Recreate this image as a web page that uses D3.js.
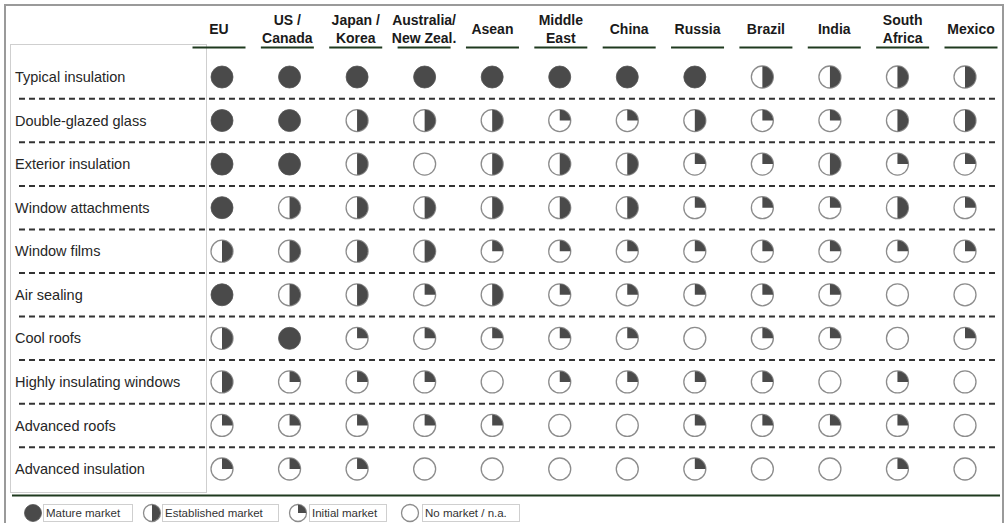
<!DOCTYPE html>
<html>
<head>
<meta charset="utf-8">
<script src="https://cdn.jsdelivr.net/npm/d3@7/dist/d3.min.js"></script>
<style>
  html, body { margin: 0; padding: 0; background: #fff; }
  svg { display: block; font-family: "Liberation Sans", Arial, sans-serif; }
</style>
</head>
<body>
<svg id="chart" width="1008" height="523"></svg>
<script>
// Regions (column headers); "\n" marks a line break in the header
const regions = [
  "EU", "US /\nCanada", "Japan /\nKorea", "Australia/\nNew Zeal.", "Asean",
  "Middle\nEast", "China", "Russia", "Brazil", "India", "South\nAfrica", "Mexico"
];

// Building-envelope technologies (rows)
const technologies = [
  "Typical insulation", "Double-glazed glass", "Exterior insulation",
  "Window attachments", "Window films", "Air sealing", "Cool roofs",
  "Highly  insulating windows", "Advanced roofs", "Advanced insulation"
];

// Market maturity: 0 = no market / n.a., 1 = initial, 2 = established, 3 = mature
const typicalInsulation       = [3, 3, 3, 3, 3, 3, 3, 3, 2, 2, 2, 2];
const doubleGlazedGlass       = [3, 3, 2, 2, 2, 1, 1, 2, 1, 1, 2, 2];
const exteriorInsulation      = [3, 3, 2, 0, 2, 2, 2, 1, 1, 2, 1, 1];
const windowAttachments       = [3, 2, 2, 2, 2, 2, 2, 1, 1, 1, 2, 1];
const windowFilms             = [2, 2, 2, 2, 1, 1, 1, 1, 1, 1, 1, 1];
const airSealing              = [3, 2, 2, 1, 2, 1, 1, 1, 1, 1, 0, 0];
const coolRoofs               = [2, 3, 1, 1, 1, 1, 1, 0, 1, 1, 0, 1];
const highlyInsulatingWindows = [2, 1, 1, 1, 0, 1, 1, 1, 1, 0, 1, 0];
const advancedRoofs           = [1, 1, 1, 1, 1, 0, 0, 1, 1, 1, 1, 0];
const advancedInsulation      = [1, 1, 1, 0, 0, 0, 0, 1, 0, 0, 1, 0];

const maturityRows = [
  typicalInsulation, doubleGlazedGlass, exteriorInsulation, windowAttachments,
  windowFilms, airSealing, coolRoofs, highlyInsulatingWindows, advancedRoofs,
  advancedInsulation
];

// Legend entries, in display order, with their maturity level
const legendLabels = ["Mature market", "Established  market", "Initial market", "No market / n.a."];
const legendLevels = [3, 2, 1, 0];

// ---------------------------------------------------------------------------
const svg = d3.select("#chart");

const x = d3.scalePoint().domain(regions).range([222, 965]);
const xHead = d3.scalePoint().domain(regions).range([219, 971]);
const y = d3.scalePoint().domain(technologies).range([77, 469]);
const fillAngle = d3.scaleOrdinal().domain([0, 1, 2, 3]).range([0, Math.PI / 2, Math.PI, 2 * Math.PI]);

const DARK = "#4a4a4a";
const RING = "#8c8c8c";

// Outer frame
svg.append("path")
  .attr("d", "M5,524 V5 H1003 V524")
  .attr("fill", "none").attr("stroke", "#9a9a9a").attr("stroke-width", 2);

// Label panel
svg.append("rect")
  .attr("x", 10.5).attr("y", 44.5).attr("width", 196).attr("height", 448)
  .attr("fill", "#fff").attr("stroke", "#cfcfcf").attr("stroke-width", 1);

// Column headers
const head = svg.append("g").attr("class", "headers");
regions.forEach(r => {
  const lines = r.split("\n");
  const t = head.append("text")
    .attr("x", xHead(r)).attr("text-anchor", "middle")
    .attr("font-size", 14).attr("font-weight", "bold").attr("fill", "#1a1a1a");
  lines.forEach((ln, i) => {
    t.append("tspan").attr("x", xHead(r))
      .attr("y", lines.length === 1 ? 34 : 25 + i * 17.5)
      .text(ln);
  });
  head.append("line")
    .attr("x1", xHead(r) - 26.5).attr("x2", xHead(r) + 26.5)
    .attr("y1", 47.5).attr("y2", 47.5)
    .attr("stroke", "#1f3a1f").attr("stroke-width", 2);
});

// Row separators (dashed), halfway between rows
const step = y.step();
svg.append("g").selectAll("line")
  .data(technologies.slice(1))
  .join("line")
  .attr("x1", 19).attr("x2", 995)
  .attr("y1", d => y(d) - step / 2).attr("y2", d => y(d) - step / 2)
  .attr("stroke", "#333").attr("stroke-width", 2).attr("stroke-dasharray", "6,4");

// Row labels
svg.append("g").selectAll("text")
  .data(technologies)
  .join("text")
  .attr("x", 15).attr("y", d => y(d)).attr("dy", "0.35em")
  .attr("font-size", 14.5).attr("fill", "#262626")
  .text(d => d);

// Harvey-ball glyph
function drawBall(g, level, r) {
  if (level === 3) {
    g.append("circle").attr("r", r).attr("fill", DARK).attr("stroke", "#555").attr("stroke-width", 0.8);
    return;
  }
  g.append("circle").attr("r", r).attr("fill", "#fff").attr("stroke", RING).attr("stroke-width", 1.3);
  if (level > 0) {
    g.append("path")
      .attr("d", d3.arc()({ innerRadius: 0, outerRadius: r - 0.3, startAngle: 0, endAngle: fillAngle(level) }))
      .attr("fill", DARK);
  }
}

// Grid of maturity glyphs
const cells = [];
maturityRows.forEach((row, i) => row.forEach((v, j) => cells.push({ tech: technologies[i], region: regions[j], level: v })));

svg.append("g").selectAll("g")
  .data(cells)
  .join("g")
  .attr("transform", d => `translate(${x(d.region)},${y(d.tech)})`)
  .each(function (d) { drawBall(d3.select(this), d.level, 11); });

// Bottom rule
svg.append("line")
  .attr("x1", 12).attr("x2", 1000).attr("y1", 495.5).attr("y2", 495.5)
  .attr("stroke", "#1f3a1f").attr("stroke-width", 2);

// Legend
const legendCircleX = [33, 152, 298, 410];
const legendBoxX = [43, 162, 309, 422];
const legendBoxW = [89, 116, 77, 97];
const lg = svg.append("g");
legendLabels.forEach((lab, i) => {
  const g = lg.append("g").attr("transform", `translate(${legendCircleX[i]},513)`);
  drawBall(g, legendLevels[i], 8.5);
  lg.append("rect")
    .attr("x", legendBoxX[i] + 0.5).attr("y", 504.5)
    .attr("width", legendBoxW[i]).attr("height", 17)
    .attr("fill", "#fff").attr("stroke", "#cfcfcf");
  lg.append("text")
    .attr("x", legendBoxX[i] + 3).attr("y", 513).attr("dy", "0.35em")
    .attr("font-size", 11.5).attr("fill", "#333")
    .text(lab);
});
</script>
</body>
</html>
